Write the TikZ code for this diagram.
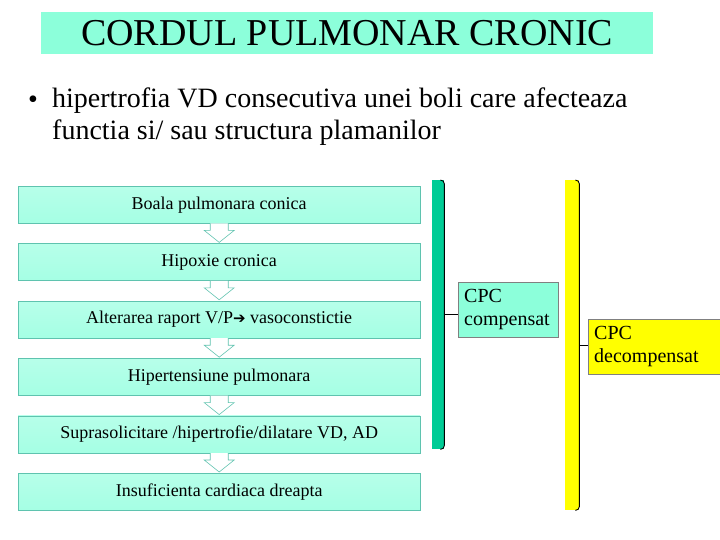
\documentclass[tikz,border=0pt]{standalone}
\usepackage{fontspec}
\setmainfont{Liberation Serif}
\newfontfamily\symfont{DejaVu Sans}
\usetikzlibrary{calc,positioning}
\definecolor{cpcaqua}{RGB}{140,255,218}
\definecolor{cpcbox}{RGB}{165,255,228}
\definecolor{cpcedge}{RGB}{95,195,175}
\definecolor{cpcgreen}{RGB}{0,204,150}
\definecolor{cpcyellow}{RGB}{255,255,0}

% block arrow between two stacked boxes
\newcommand{\fatarrow}[2]{%
  \draw[fatarr] ($(#1.south)+(-9,0)$) -- ($(#1.south)+(-9,7)$) -- ($(#1.south)+(-15,7)$)
    -- ($(#2.north)+(0,-1)$) -- ($(#1.south)+(15,7)$) -- ($(#1.south)+(9,7)$) -- ($(#1.south)+(9,0)$);}

\begin{document}
\begin{tikzpicture}[x=1pt,y=-1pt,
stepbox/.style={draw=cpcedge,top color=cpcbox!80!white,bottom color=cpcbox,minimum width=402pt,minimum height=37pt,inner sep=0pt,font=\fontsize{18}{20}\selectfont},
fatarr/.style={draw=cpcedge,fill=white,line width=0.6pt,line join=miter},
brk/.style={minimum width=12pt,inner sep=0pt,anchor=north west},
tag/.style={draw=gray,align=left,inner xsep=6pt,inner ysep=7pt,anchor=north west,font=\fontsize{20}{23}\selectfont}
]
\useasboundingbox (0,0) rectangle (720,540);
% title and bullet
\node[fill=cpcaqua,minimum width=612pt,minimum height=42pt,inner sep=0pt,anchor=north west,font=\fontsize{38}{42}\selectfont] (title) at (41,12) {CORDUL PULMONAR CRONIC};
\node[anchor=west,inner sep=0pt,font=\fontsize{28}{30}\selectfont] (dot) at (28,102) {•};
\node[anchor=north west,align=left,inner sep=0pt,font=\fontsize{28}{32}\selectfont] (intro) at (52,88) {hipertrofia VD consecutiva unei boli care afecteaza\\functia si/ sau structura plamanilor};
% chain of boxes
\node[stepbox,anchor=north west] (boala) at (18,186) {Boala pulmonara conica};
\node[stepbox,below=20pt of boala] (hipox) {Hipoxie cronica};
\node[stepbox,below=20pt of hipox] (alter) {Alterarea raport V/P{\symfont\fontsize{15}{17}\selectfont ➔} vasoconstictie};
\node[stepbox,below=20pt of alter] (hta) {Hipertensiune pulmonara};
\node[stepbox,below=20pt of hta] (supra) {Suprasolicitare /hipertrofie/dilatare VD, AD};
\node[stepbox,below=20pt of supra] (icd) {Insuficienta cardiaca dreapta};
\fatarrow{boala}{hipox}
\fatarrow{hipox}{alter}
\fatarrow{alter}{hta}
\fatarrow{hta}{supra}
\fatarrow{supra}{icd}
% brackets
\node[brk,fill=cpcgreen,minimum height=269pt] (brkA) at (432,180) {};
\node[brk,fill=cpcyellow,minimum width=14pt,minimum height=330pt] (brkB) at (565,180) {};
\draw[line width=0.9pt] (brkA.north east) ++(-4,0) to[out=0,in=90] ++(4,4) -- ($(brkA.south east)+(0,-4)$) to[out=-90,in=0] ++(-4,4);
\draw[line width=0.9pt] (brkB.north east) ++(-4,0) to[out=0,in=90] ++(4,4) -- ($(brkB.south east)+(0,-4)$) to[out=-90,in=0] ++(-4,4);
\node[tag,fill=cpcaqua,text width=88pt,minimum height=55pt] (cpcA) at (458,282) {CPC\\compensat};
\node[tag,fill=cpcyellow,text width=128pt,minimum height=54pt] (cpcB) at (588,319) {CPC\\decompensat};
\draw[line width=1.2pt] (brkA.east) -- (brkA.east -| cpcA.west);
\draw[line width=1.2pt] (brkB.east) -- (brkB.east -| cpcB.west);
\end{tikzpicture}
\end{document}
